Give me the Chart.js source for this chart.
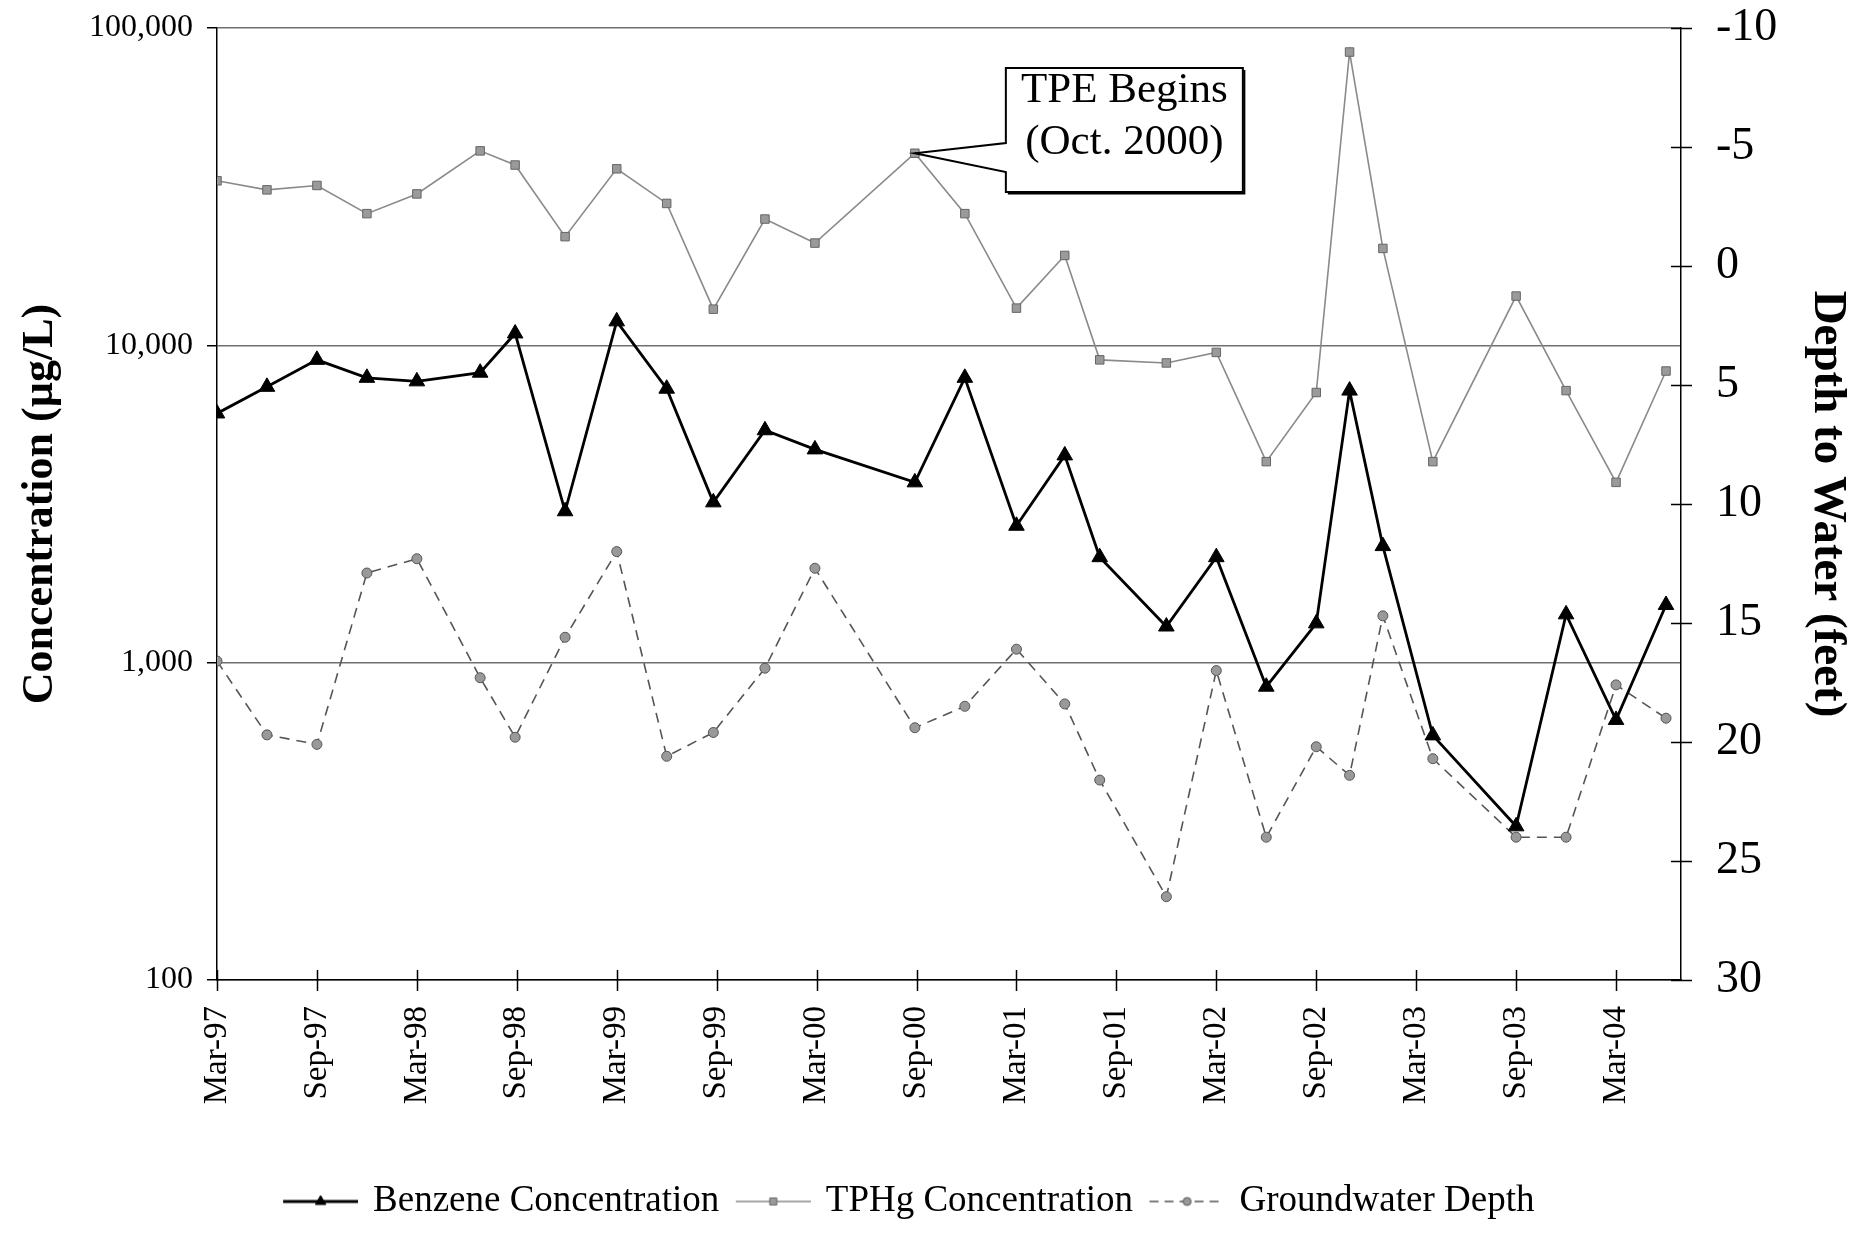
<!DOCTYPE html>
<html>
<head>
<meta charset="utf-8">
<script src="https://cdn.jsdelivr.net/npm/chart.js@4.4.1/dist/chart.umd.min.js"></script>
<style>
  html, body { margin: 0; padding: 0; background: #fff; }
  #wrap { width: 1860px; height: 1233px; }
</style>
</head>
<body>
<div id="wrap"><canvas id="chart" width="1860" height="1233"></canvas></div>
<script>
// Fechas de muestreo y valores
const sampleDates = [
    '1997-03-01', '1997-06-01', '1997-09-01', '1997-12-01', '1998-03-01',
    '1998-06-25', '1998-08-28', '1998-11-28', '1999-03-01', '1999-06-01',
    '1999-08-25', '1999-11-28', '2000-02-28', '2000-08-28', '2000-11-28',
    '2001-03-01', '2001-05-28', '2001-08-01', '2001-12-01', '2002-03-01',
    '2002-06-01', '2002-09-01', '2002-11-01', '2003-01-01', '2003-04-01',
    '2003-09-01', '2003-12-01', '2004-03-01', '2004-06-01'
];
const benzene = [
    6100, 7400, 9000, 7900, 7700, 8200, 10900, 3000, 11900, 7300,
    3200, 5400, 4700, 3700, 7900, 2700, 4500, 2150, 1300, 2150,
    840, 1330, 7200, 2330, 590, 305, 1420, 660, 1520
];
const tphg = [
    33000, 30900, 31900, 26000, 30000, 41000, 37000, 22000, 36000, 28000,
    13000, 25000, 21000, 40300, 26000, 13100, 19200, 9000, 8800, 9500,
    4300, 7100, 84000, 20200, 4300, 14300, 7200, 3700, 8300
];
const gwDepth = [
    16.6, 19.7, 20.1, 12.9, 12.3, 17.3, 19.8, 15.6, 12.0, 20.6,
    19.6, 16.9, 12.7, 19.4, 18.5, 16.1, 18.4, 21.6, 26.5, 17.0,
    24.0, 20.2, 21.4, 14.7, 20.7, 24.0, 24.0, 17.6, 19.0
];
const xTickLabels = [
    'Mar-97', 'Sep-97', 'Mar-98', 'Sep-98', 'Mar-99', 'Sep-99', 'Mar-00', 'Sep-00',
    'Mar-01', 'Sep-01', 'Mar-02', 'Sep-02', 'Mar-03', 'Sep-03', 'Mar-04'
];
const concTicks = [100, 1000, 10000, 100000];
const calloutLines = ['TPE Begins', '(Oct. 2000)'];
const calloutIndex = 13; // muestra de Sep-00

const FONT = "'Liberation Serif', 'Times New Roman', serif";

// meses desde Mar-97
function monthIndex(str) {
    const [y, m, d] = str.split('-').map(Number);
    return (y - 1997) * 12 + (m - 3) + (d - 1) / 30;
}

function toPoints(values) {
    return sampleDates.map((d, i) => ({ x: monthIndex(d), y: values[i] }));
}

// muestra de línea + marcador para la leyenda
function legendSample(opts) {
    const c = document.createElement('canvas');
    c.width = 88;
    c.height = 24;
    const g = c.getContext('2d');
    g.strokeStyle = opts.line;
    g.lineWidth = opts.width;
    g.setLineDash(opts.dash || []);
    g.beginPath();
    g.moveTo(13, 12);
    g.lineTo(88, 12);
    g.stroke();
    g.setLineDash([]);
    g.fillStyle = opts.fill;
    g.strokeStyle = opts.stroke;
    g.lineWidth = 1;
    Chart.helpers.drawPoint(g, { pointStyle: opts.style, radius: opts.radius, borderWidth: 1 }, 50.5, 12);
    return c;
}

const crossTicks = {
    id: 'crossTicks',
    afterDraw(chart) {
        const { ctx, chartArea, scales } = chart;
        ctx.save();
        ctx.strokeStyle = '#000';
        ctx.lineWidth = 1.5;
        ctx.beginPath();
        scales.x.ticks.forEach(t => {
            const px = Math.round(scales.x.getPixelForValue(t.value)) + 0.5;
            ctx.moveTo(px, chartArea.bottom - 10);
            ctx.lineTo(px, chartArea.bottom + 11);
        });
        scales.yDepth.ticks.forEach(t => {
            const py = Math.round(scales.yDepth.getPixelForValue(t.value)) + 0.5;
            ctx.moveTo(chartArea.right - 10, py);
            ctx.lineTo(chartArea.right + 11, py);
        });
        ctx.stroke();
        ctx.restore();
    }
};

const callout = {
    id: 'callout',
    afterDatasetsDraw(chart) {
        const anchor = chart.getDatasetMeta(1).data[calloutIndex];
        if (!anchor) return;
        const { ctx, chartArea } = chart;
        const left = anchor.x + 91, top = chartArea.top + 40, w = 237, h = 124;
        ctx.save();
        ctx.beginPath();
        ctx.moveTo(left, top + 75);
        ctx.lineTo(left, top);
        ctx.lineTo(left + w, top);
        ctx.lineTo(left + w, top + h);
        ctx.lineTo(left, top + h);
        ctx.lineTo(left, top + 104);
        ctx.lineTo(anchor.x, anchor.y);
        ctx.closePath();
        ctx.fillStyle = '#fff';
        ctx.fill();
        ctx.strokeStyle = '#000';
        ctx.lineWidth = 2;
        ctx.stroke();
        // sombra ligera abajo/derecha
        ctx.beginPath();
        ctx.moveTo(left + w + 1.5, top + 2);
        ctx.lineTo(left + w + 1.5, top + h + 1.5);
        ctx.lineTo(left + 2, top + h + 1.5);
        ctx.stroke();
        ctx.fillStyle = '#000';
        ctx.font = '43px ' + FONT;
        ctx.textAlign = 'center';
        ctx.textBaseline = 'middle';
        ctx.fillText(calloutLines[0], left + w / 2, top + 23);
        ctx.fillText(calloutLines[1], left + w / 2, top + 75);
        ctx.restore();
    }
};

// la leyenda del original está algo desplazada a la izquierda
const legendShift = {
    id: 'legendShift',
    afterLayout(chart) {
        if (chart.legend) {
            chart.legend.left -= 26;
            chart.legend.right -= 26;
        }
    }
};

const legendSamples = [
    legendSample({ line: '#000', width: 2.8, style: 'triangle', radius: 6, fill: '#000', stroke: '#000' }),
    legendSample({ line: '#8a8a8a', width: 1.6, style: 'rect', radius: 5, fill: '#9a9a9a', stroke: '#666' }),
    legendSample({ line: '#555', width: 1.6, dash: [9, 6], style: 'circle', radius: 4, fill: '#999', stroke: '#555' })
];

function fixVertical(width) {
    return s => {
        s.width = width;
        s.paddingTop = 28;
        s.paddingBottom = 0;
    };
}

Chart.defaults.font.family = FONT;
Chart.defaults.color = '#000';

new Chart(document.getElementById('chart').getContext('2d'), {
    type: 'line',
    data: {
        datasets: [{
            label: 'Benzene Concentration',
            data: toPoints(benzene),
            yAxisID: 'yConc',
            borderColor: '#000',
            borderWidth: 2.8,
            pointStyle: 'triangle',
            pointRadius: 9,
            pointBackgroundColor: '#000',
            pointBorderColor: '#000',
            pointBorderWidth: 1,
            tension: 0
        }, {
            label: 'TPHg Concentration',
            data: toPoints(tphg),
            yAxisID: 'yConc',
            borderColor: '#8a8a8a',
            borderWidth: 1.6,
            pointStyle: 'rect',
            pointRadius: 6,
            pointBackgroundColor: '#9a9a9a',
            pointBorderColor: '#666',
            pointBorderWidth: 1,
            tension: 0
        }, {
            label: 'Groundwater Depth',
            data: toPoints(gwDepth),
            yAxisID: 'yDepth',
            borderColor: '#555',
            borderWidth: 1.6,
            borderDash: [10, 7],
            pointStyle: 'circle',
            pointRadius: 5,
            pointBackgroundColor: '#999',
            pointBorderColor: '#555',
            pointBorderWidth: 1,
            tension: 0
        }]
    },
    options: {
        responsive: false,
        animation: false,
        layout: { padding: { top: 0, bottom: 3, left: 0, right: 0 } },
        scales: {
            x: {
                type: 'linear',
                min: 0,
                max: 87.9,
                afterFit: s => { s.height = 196; },
                ticks: {
                    stepSize: 6,
                    includeBounds: false,
                    autoSkip: false,
                    minRotation: 90,
                    maxRotation: 90,
                    padding: 26,
                    font: { size: 33 },
                    callback: v => xTickLabels[Math.round(v / 6)] ?? ''
                },
                grid: { drawOnChartArea: false, drawTicks: false },
                border: { color: '#000', width: 1.5 }
            },
            yConc: {
                type: 'logarithmic',
                position: 'left',
                min: 100,
                max: 100000,
                afterBuildTicks: s => { s.ticks = concTicks.map(v => ({ value: v })); },
                afterFit: fixVertical(217),
                ticks: {
                    font: { size: 32 },
                    padding: 14,
                    autoSkip: false,
                    callback: v => Number(v).toLocaleString('en-US')
                },
                grid: { color: '#707070', lineWidth: 1.5, tickLength: 10, tickColor: '#000' },
                border: { color: '#000', width: 1.5 },
                title: {
                    display: true,
                    text: 'Concentration (µg/L)',
                    font: { size: 44, weight: 'bold' },
                    padding: { top: 14 }
                }
            },
            yDepth: {
                type: 'linear',
                position: 'right',
                min: -10,
                max: 30,
                reverse: true,
                afterFit: fixVertical(179),
                ticks: { stepSize: 5, font: { size: 46 }, padding: 35, autoSkip: false },
                grid: { drawOnChartArea: false, drawTicks: false },
                border: { color: '#000', width: 1.5 },
                title: {
                    display: true,
                    text: 'Depth to Water (feet)',
                    font: { size: 47, weight: 'bold' },
                    padding: { top: 5 }
                }
            }
        },
        plugins: {
            legend: {
                position: 'bottom',
                labels: {
                    usePointStyle: true,
                    pointStyleWidth: 81,
                    padding: 7,
                    color: '#000',
                    font: { size: 37 },
                    generateLabels: chart => chart.data.datasets.map((ds, i) => ({
                        text: ds.label,
                        pointStyle: legendSamples[i],
                        datasetIndex: i,
                        hidden: false,
                        lineWidth: 0,
                        fillStyle: 'rgba(0,0,0,0)',
                        strokeStyle: 'rgba(0,0,0,0)'
                    }))
                }
            },
            tooltip: { enabled: false }
        }
    },
    plugins: [crossTicks, callout, legendShift]
});
</script>
</body>
</html>
